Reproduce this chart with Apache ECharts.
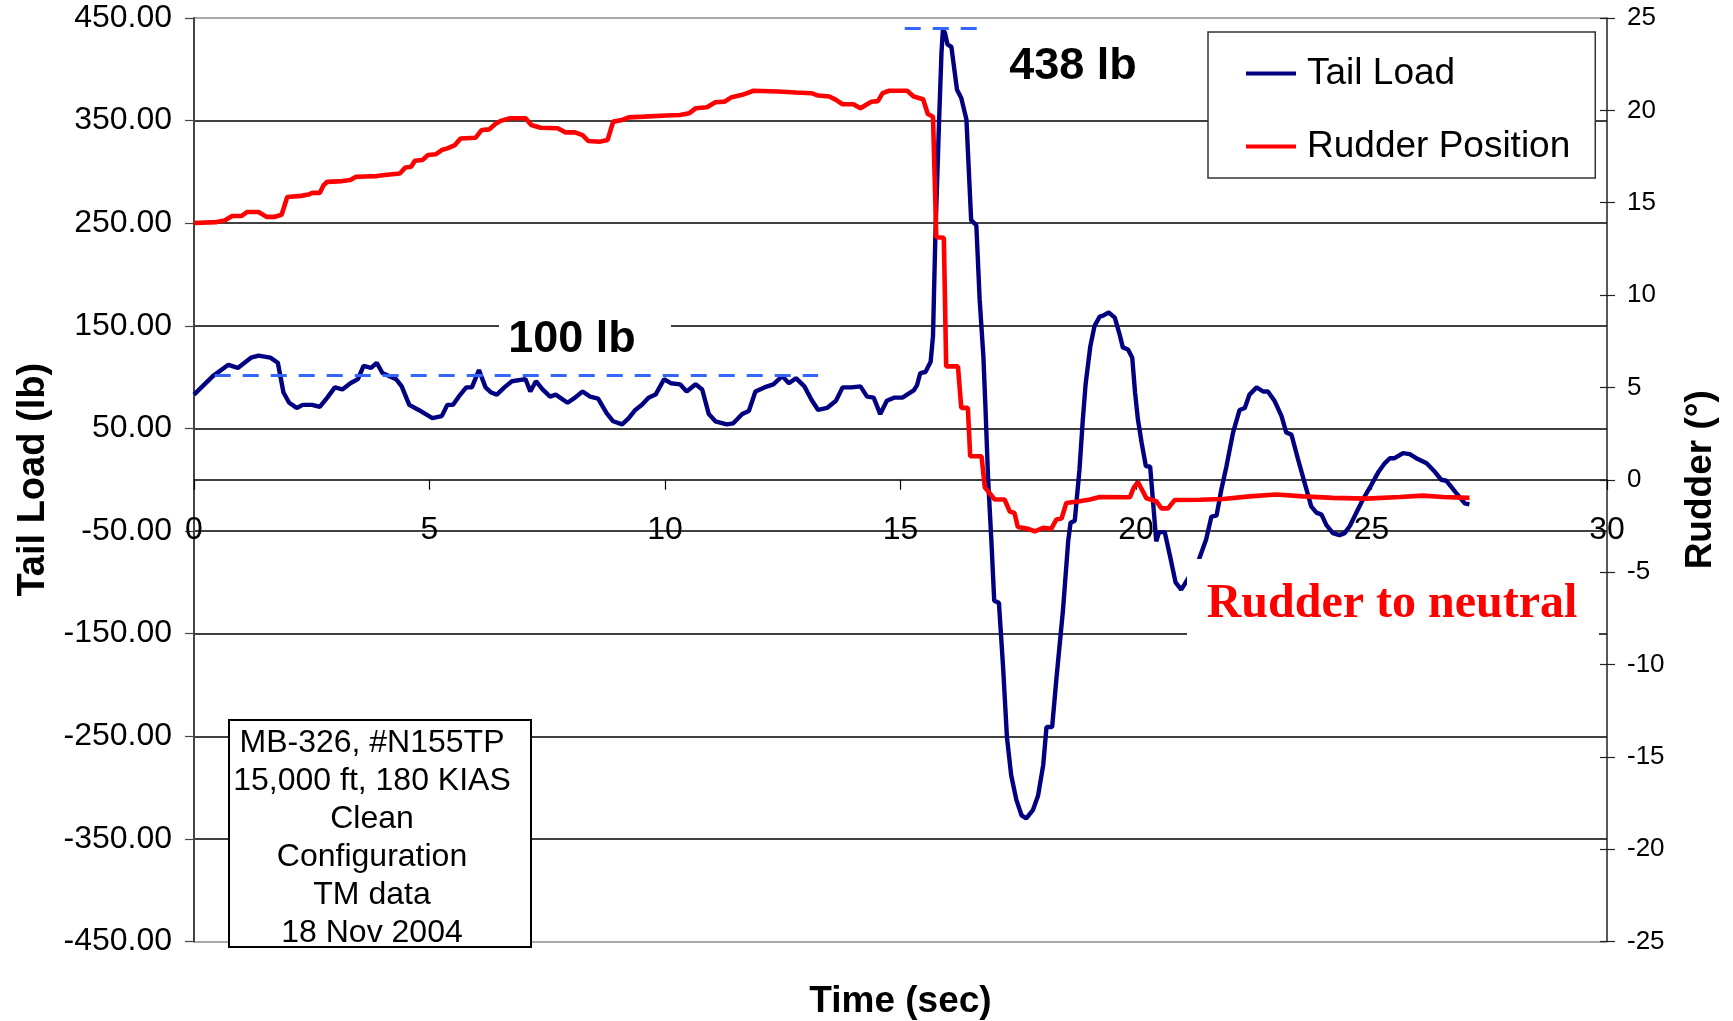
<!DOCTYPE html>
<html>
<head>
<meta charset="utf-8">
<title>Tail load / rudder position</title>
<script src="https://cdn.jsdelivr.net/npm/echarts@6.0.0/dist/echarts.min.js"></script>
<style>
html,body{margin:0;padding:0;background:#fff;}
#chart{width:1733px;height:1021px;}
</style>
</head>
<body>
<div id="chart"></div>
<script>
// tail load (lb) vs time (sec)
var tailTime = [0.0,0.40,0.73,0.93,1.21,1.37,1.62,1.78,1.9,2.02,2.18,2.31,2.51,2.67,2.83,2.99,3.15,3.32,3.48,3.6,3.76,3.88,4.0,4.29,4.41,4.57,4.77,5.06,5.26,5.38,5.5,5.62,5.78,5.9,6.05,6.19,6.31,6.43,6.59,6.75,7.04,7.14,7.26,7.4,7.56,7.68,7.93,8.09,8.25,8.41,8.58,8.76,8.9,9.09,9.23,9.37,9.51,9.65,9.8,9.98,10.13,10.32,10.46,10.65,10.79,10.93,11.07,11.31,11.45,11.64,11.78,11.92,12.11,12.3,12.49,12.63,12.78,12.96,13.11,13.25,13.44,13.63,13.77,13.96,14.15,14.29,14.43,14.57,14.71,14.86,15.04,15.28,15.35,15.42,15.53,15.64,15.69,15.74,15.82,15.87,15.9,15.94,16.0,16.08,16.2,16.29,16.4,16.5,16.61,16.68,16.76,16.8,16.86,16.93,16.99,17.09,17.18,17.26,17.35,17.46,17.57,17.67,17.81,17.92,18.03,18.1,18.22,18.31,18.45,18.56,18.61,18.7,18.8,18.87,18.93,19.03,19.12,19.23,19.3,19.42,19.55,19.65,19.72,19.83,19.92,19.98,20.04,20.12,20.21,20.3,20.37,20.43,20.49,20.61,20.73,20.84,20.96,21.03,21.32,21.49,21.6,21.71,21.81,21.92,22.06,22.2,22.31,22.41,22.56,22.7,22.8,22.94,23.09,23.19,23.3,23.44,23.58,23.72,23.83,23.94,24.04,24.18,24.32,24.43,24.54,24.68,24.82,24.96,25.14,25.28,25.39,25.49,25.67,25.81,25.95,26.17,26.34,26.48,26.59,26.8,26.98,27.08];
var tailLoad = [83,101,112,109,119,121,119,114,85,75,70,73,73,71,80,90,88,94,98,111,109,114,104,98,91,73,68,60,62,73,73,81,90,90,107,90,85,83,90,96,98,86,96,88,81,83,75,80,86,81,79,65,57,54,60,68,73,80,83,98,94,93,86,93,88,64,57,54,55,64,67,86,90,93,101,94,99,91,78,68,70,77,90,90,91,81,80,64,77,80,80,87,92,104,105,115,140,237,351,416,438,436,424,422,380,372,351,253,248,176,120,75,1,-60,-118,-120,-184,-251,-288,-312,-327,-330,-322,-308,-278,-241,-241,-194,-127,-60,-42,-40,10,58,93,130,150,159,160,163,158,142,129,127,119,85,59,36,13,13,-26,-60,-51,-51,-76,-100,-107,-102,-80,-58,-36,-35,-10,13,46,68,70,83,90,86,86,77,62,46,44,20,-3,-26,-32,-34,-44,-52,-54,-52,-45,-32,-19,-8,7,16,21,21,26,25,21,16,8,0,-1,-13,-23,-24];

// rudder position (deg) vs time (sec)
var rudderTime = [0.0,0.48,0.65,0.81,1.01,1.13,1.37,1.54,1.7,1.86,1.98,2.27,2.43,2.51,2.67,2.75,2.83,3.15,3.32,3.44,3.64,3.88,4.0,4.37,4.49,4.61,4.69,4.85,4.97,5.13,5.26,5.38,5.54,5.66,5.98,6.11,6.27,6.39,6.51,6.71,7.04,7.16,7.36,7.72,7.89,8.09,8.25,8.37,8.61,8.78,8.9,9.09,9.23,9.56,10.03,10.32,10.51,10.65,10.89,11.07,11.26,11.4,11.64,11.88,12.4,12.78,13.11,13.25,13.49,13.63,13.77,14.0,14.15,14.29,14.38,14.52,14.62,14.76,15.14,15.28,15.48,15.58,15.69,15.76,15.92,15.97,16.22,16.29,16.43,16.48,16.72,16.79,17.0,17.21,17.32,17.42,17.49,17.71,17.85,18.03,18.2,18.31,18.42,18.52,18.8,19.02,19.23,19.87,19.95,20.04,20.14,20.22,20.43,20.54,20.68,20.82,21.35,21.85,22.41,22.98,23.55,24.18,24.89,25.6,26.09,26.52,27.08];
var rudderPos = [13.9,13.95,14.04,14.28,14.28,14.5,14.5,14.23,14.23,14.35,15.31,15.37,15.44,15.53,15.53,15.95,16.13,16.17,16.23,16.4,16.42,16.44,16.49,16.58,16.91,16.95,17.27,17.31,17.58,17.62,17.85,17.94,18.12,18.48,18.52,18.94,18.97,19.25,19.43,19.57,19.57,19.21,19.06,19.03,18.81,18.81,18.66,18.34,18.3,18.39,19.39,19.48,19.62,19.66,19.72,19.75,19.84,20.11,20.17,20.44,20.47,20.69,20.84,21.06,21.02,20.97,20.93,20.8,20.75,20.57,20.33,20.33,20.11,20.33,20.47,20.5,20.93,21.06,21.06,20.75,20.6,19.8,19.65,13.13,13.1,6.14,6.14,3.89,3.89,1.27,1.27,-0.41,-1.07,-1.07,-1.72,-1.8,-2.56,-2.66,-2.79,-2.6,-2.66,-2.15,-2.1,-1.26,-1.16,-1.07,-0.93,-0.95,-0.44,-0.12,-0.6,-1.0,-1.16,-1.55,-1.55,-1.1,-1.08,-1.04,-0.9,-0.8,-0.9,-0.98,-1.02,-0.93,-0.86,-0.93,-0.98];

// left axis labels / grid lines
var loadTicks = [-450,-350,-250,-150,-50,50,150,250,350,450];

// dashed reference levels
var steadyTime = [0.44, 13.25];
var steadyLoad = 102;
var peakTime = [15.09, 16.62];
var peakLoad = 440;

var infoLines = ['MB-326, #N155TP','15,000 ft, 180 KIAS','Clean','Configuration','TM data','18 Nov 2004'];

var FONT = 'Liberation Sans';

function toPairs(xs, ys){
    var out = [];
    for(var i = 0; i < xs.length; i++){
        out.push([xs[i], ys[i]]);
    }
    return out;
}

// gray frame lines at top/bottom, black inside
var gridColors = [];
for(var i = 0; i < loadTicks.length; i++){
    gridColors.push((i == 0 || i == loadTicks.length - 1) ? '#8c8c8c' : '#000');
}

var chart = echarts.init(document.getElementById('chart'));

var option = {
    animation: false,
    backgroundColor: '#fff',
    textStyle: {fontFamily: FONT, color: '#000'},
    grid: {left: 194, right: 126, top: 18, bottom: 79.5, outerBoundsMode: 'none'},
    legend: {
        data: ['Tail Load', 'Rudder Position'],
        orient: 'vertical',
        left: 1208,
        top: 32,
        padding: [23, 25, 13, 38],
        itemGap: 36,
        itemWidth: 50,
        itemHeight: 4,
        icon: 'rect',
        backgroundColor: '#fff',
        borderColor: '#333',
        borderWidth: 1.5,
        borderRadius: 0,
        textStyle: {fontSize: 37, fontFamily: FONT, color: '#000', padding: [4, 0, 0, 6]}
    },
    xAxis: {
        type: 'value',
        min: 0,
        max: 30,
        interval: 5,
        // axis drawn through the zero of the load axis
        offset: -461.75,
        name: 'Time (sec)',
        nameLocation: 'middle',
        nameGap: 504,
        nameTextStyle: {fontSize: 37, fontWeight: 'bold', fontFamily: FONT, color: '#000'},
        axisLine: {show: true, onZero: false, lineStyle: {color: '#000', width: 1.5}},
        axisTick: {show: true, length: 10, lineStyle: {color: '#000', width: 1.2}},
        axisLabel: {fontSize: 32, margin: 34, color: '#000', fontFamily: FONT},
        splitLine: {show: false}
    },
    yAxis: [
        {
            type: 'value',
            min: -450,
            max: 450,
            name: 'Tail Load (lb)',
            nameLocation: 'middle',
            nameRotate: 90,
            nameGap: 139,
            nameTextStyle: {fontSize: 38, fontWeight: 'bold', fontFamily: FONT, color: '#000'},
            axisLine: {show: true, lineStyle: {color: '#444', width: 2}},
            axisTick: {show: true, length: 9, customValues: loadTicks, lineStyle: {color: '#444', width: 1.2}},
            axisLabel: {
                fontSize: 32, margin: 22, color: '#000', fontFamily: FONT,
                customValues: loadTicks,
                formatter: function(v){ return v.toFixed(2); }
            },
            splitLine: {show: true, lineStyle: {color: gridColors, width: 1.5}}
        },
        {
            type: 'value',
            min: -25,
            max: 25,
            interval: 5,
            position: 'right',
            name: 'Rudder (\u00b0)',
            nameLocation: 'middle',
            nameRotate: 90,
            nameGap: 75,
            nameTextStyle: {fontSize: 37, fontWeight: 'bold', fontFamily: FONT, color: '#000'},
            axisLine: {show: true, lineStyle: {color: '#222', width: 1.5}},
            axisTick: {show: true, length: 8, lineStyle: {color: '#222', width: 1.2}},
            axisLabel: {fontSize: 26, margin: 20, color: '#000', fontFamily: FONT},
            splitLine: {show: false}
        },
        {
            // inner half of the crossing ticks on the right axis
            type: 'value',
            min: -25,
            max: 25,
            interval: 5,
            position: 'right',
            axisLine: {show: false},
            axisTick: {show: true, inside: true, length: 7, lineStyle: {color: '#222', width: 1.2}},
            axisLabel: {show: false},
            splitLine: {show: false}
        }
    ],
    series: [
        {
            name: 'Tail Load',
            type: 'line',
            yAxisIndex: 0,
            showSymbol: false,
            symbol: 'none',
            color: '#000080',
            lineStyle: {color: '#000080', width: 4.4},
            data: toPairs(tailTime, tailLoad),
            markLine: {
                silent: true,
                symbol: 'none',
                label: {show: false},
                lineStyle: {color: '#3366ff', width: 3, type: [16, 12]},
                data: [
                    [{coord: [steadyTime[0], steadyLoad]}, {coord: [steadyTime[1], steadyLoad]}],
                    [{coord: [peakTime[0], peakLoad]}, {coord: [peakTime[1], peakLoad]}]
                ]
            }
        },
        {
            name: 'Rudder Position',
            type: 'line',
            yAxisIndex: 1,
            showSymbol: false,
            symbol: 'none',
            color: '#ff0000',
            lineStyle: {color: '#ff0000', width: 4.6},
            data: toPairs(rudderTime, rudderPos)
        }
    ],
    graphic: [
        {type: 'rect', z: 10, shape: {x: 499, y: 312, width: 172, height: 46}, style: {fill: '#fff'}},
        {type: 'text', z: 11, x: 572, y: 340,
            style: {text: '100 lb', fontSize: 45, fontWeight: 'bold', fontFamily: FONT, fill: '#000',
                align: 'center', verticalAlign: 'middle', textAlign: 'center', textVerticalAlign: 'middle'}},
        {type: 'text', z: 11, x: 1073, y: 67,
            style: {text: '438 lb', fontSize: 45, fontWeight: 'bold', fontFamily: FONT, fill: '#000',
                align: 'center', verticalAlign: 'middle', textAlign: 'center', textVerticalAlign: 'middle'}},
        {type: 'rect', z: 10, shape: {x: 1187, y: 559, width: 412, height: 86}, style: {fill: '#fff'}},
        {type: 'text', z: 11, x: 1392, y: 605,
            style: {text: 'Rudder to neutral', fontSize: 48, fontWeight: 'bold', fontFamily: 'Liberation Serif', fill: '#ff0000',
                align: 'center', verticalAlign: 'middle', textAlign: 'center', textVerticalAlign: 'middle'}},
        {type: 'rect', z: 10, shape: {x: 229, y: 720, width: 302, height: 227},
            style: {fill: '#fff', stroke: '#000', lineWidth: 2}},
        {type: 'text', z: 11, x: 372, y: 724,
            style: {text: infoLines.join('\n'), fontSize: 32, lineHeight: 38, fontFamily: FONT, fill: '#000',
                align: 'center', verticalAlign: 'top', textAlign: 'center', textVerticalAlign: 'top'}}
    ]
};

chart.setOption(option);
</script>
</body>
</html>
